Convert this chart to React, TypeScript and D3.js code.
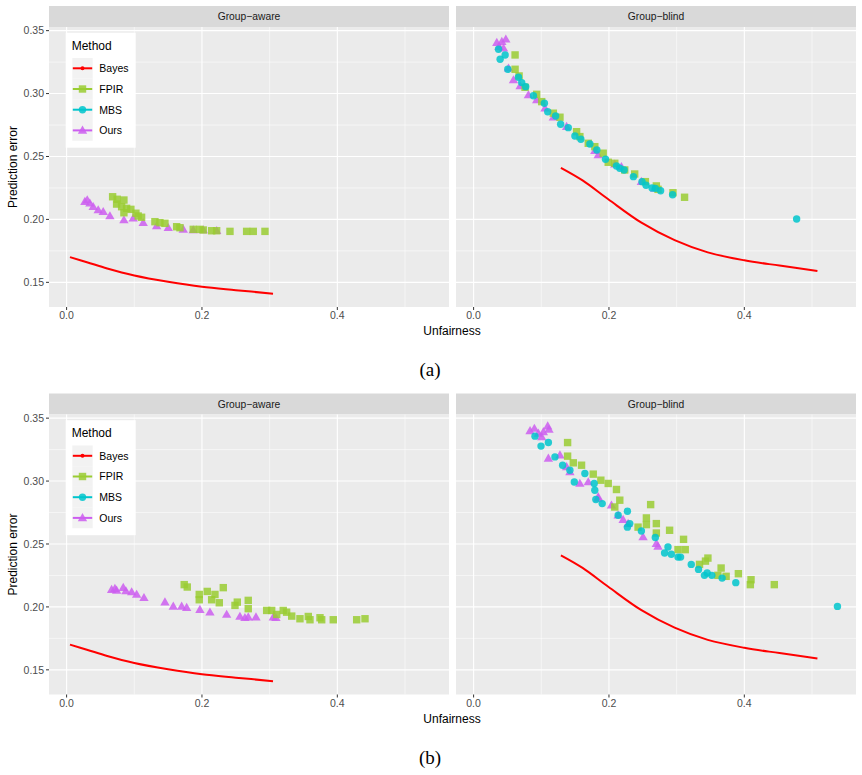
import React from "react";
import * as d3 from "d3";

// Bayes frontier (same in both runs)
const bayesAware: [number, number][] = [
  [0.005, 0.170], [0.03, 0.166], [0.06, 0.161], [0.1, 0.1555], [0.15, 0.1505],
  [0.2, 0.1465], [0.25, 0.1438], [0.305, 0.1410],
];
const bayesBlind: [number, number][] = [
  [0.129, 0.241], [0.161, 0.231], [0.199, 0.216], [0.248, 0.1974], [0.297, 0.1835],
  [0.346, 0.1738], [0.4, 0.1675], [0.452, 0.1633], [0.508, 0.159],
];

// run (a)
const aAwareFPIR: [number, number][] = [
  [0.068, 0.218], [0.0748, 0.216], [0.0847, 0.2154], [0.0739, 0.2122], [0.0813, 0.2101],
  [0.0887, 0.2088], [0.095, 0.208], [0.0847, 0.2053], [0.1024, 0.2049], [0.1108, 0.2017],
  [0.1058, 0.2027], [0.1305, 0.1982], [0.1379, 0.1974], [0.1453, 0.1969], [0.1626, 0.1942],
  [0.1675, 0.1934], [0.1871, 0.1921], [0.197, 0.1921], [0.2019, 0.1916], [0.2143, 0.191],
  [0.2217, 0.191], [0.2414, 0.1905], [0.266, 0.1905], [0.2758, 0.1905], [0.2931, 0.1905],
];
const aAwareOurs: [number, number][] = [
  [0.027, 0.2141], [0.0305, 0.2154], [0.0344, 0.2128], [0.0393, 0.2101], [0.0467, 0.2075],
  [0.0541, 0.2061], [0.064, 0.2027], [0.0847, 0.1995], [0.0984, 0.2009], [0.1132, 0.1974],
  [0.133, 0.1948], [0.1502, 0.1934], [0.1724, 0.1921], [0.1871, 0.1916], [0.2019, 0.1916],
  [0.2217, 0.191],
];
const aBlindFPIR: [number, number][] = [
  [0.0613, 0.3307], [0.0613, 0.3193], [0.0672, 0.314], [0.076, 0.305], [0.0932, 0.2994],
  [0.1006, 0.2936], [0.1178, 0.2844], [0.1276, 0.2812], [0.1522, 0.2697], [0.157, 0.2658],
  [0.1694, 0.2605], [0.1791, 0.2578], [0.1915, 0.2526], [0.1989, 0.2454], [0.2086, 0.2446],
  [0.2233, 0.2393], [0.238, 0.2361], [0.2538, 0.23], [0.27, 0.2266], [0.2725, 0.2239],
  [0.2946, 0.2212], [0.3117, 0.2176],
];
const aBlindMBS: [number, number][] = [
  [0.0368, 0.3352], [0.0392, 0.3273], [0.0466, 0.3307], [0.0505, 0.3193], [0.0663, 0.313],
  [0.0711, 0.3087], [0.077, 0.3055], [0.0884, 0.2983], [0.1046, 0.2923], [0.1095, 0.2856],
  [0.1212, 0.2822], [0.1286, 0.2756], [0.1399, 0.2729], [0.1497, 0.2663], [0.1585, 0.2637],
  [0.1718, 0.2599], [0.1821, 0.2552], [0.1949, 0.2478], [0.2111, 0.2425], [0.216, 0.2406],
  [0.2224, 0.2393], [0.2361, 0.234], [0.2489, 0.23], [0.2548, 0.2271], [0.2637, 0.225],
  [0.2685, 0.2247], [0.2763, 0.2228], [0.294, 0.2196], [0.4773, 0.2003],
];
const aBlindOurs: [number, number][] = [
  [0.0343, 0.3405], [0.0417, 0.3413], [0.0476, 0.3432], [0.0377, 0.3373], [0.0442, 0.336],
  [0.0516, 0.3201], [0.0589, 0.3108], [0.0687, 0.306], [0.081, 0.2989], [0.0932, 0.2949],
  [0.1055, 0.2883], [0.1178, 0.2812], [0.1374, 0.2737], [0.1791, 0.2546], [0.1841, 0.2512],
  [0.2086, 0.2438], [0.2184, 0.2419], [0.2479, 0.23], [0.2675, 0.2247],
];

// run (b)
const bAwareFPIR: [number, number][] = [
  [0.1738, 0.2177], [0.1783, 0.2158], [0.196, 0.2099], [0.196, 0.2057], [0.2078, 0.2123],
  [0.2192, 0.2099], [0.2143, 0.2057], [0.2256, 0.2033], [0.2315, 0.2153], [0.2488, 0.2012],
  [0.2522, 0.2038], [0.2684, 0.2052], [0.2684, 0.1986], [0.2956, 0.1972], [0.303, 0.1972],
  [0.3104, 0.194], [0.3201, 0.1972], [0.3251, 0.1958], [0.3326, 0.1927], [0.3448, 0.1906],
  [0.3571, 0.1924], [0.3596, 0.1898], [0.3744, 0.1914], [0.3769, 0.1898], [0.394, 0.1898],
  [0.4286, 0.1898], [0.4409, 0.1906],
];
const bAwareOurs: [number, number][] = [
  [0.0665, 0.2137], [0.0714, 0.2145], [0.0739, 0.2131], [0.0837, 0.2153], [0.0876, 0.2126],
  [0.0961, 0.2118], [0.1035, 0.2099], [0.1143, 0.2073], [0.1453, 0.2038], [0.1576, 0.2004],
  [0.17, 0.2004], [0.1774, 0.1994], [0.197, 0.1978], [0.2118, 0.1958], [0.2365, 0.194],
  [0.2561, 0.1924], [0.2635, 0.1914], [0.2684, 0.1919], [0.2798, 0.1919], [0.3054, 0.1919],
  [0.3093, 0.1914],
];
const bBlindFPIR: [number, number][] = [
  [0.1389, 0.3306], [0.1389, 0.3198], [0.1473, 0.3145], [0.1595, 0.3126], [0.1768, 0.3055],
  [0.188, 0.3007], [0.1989, 0.2981], [0.2111, 0.2933], [0.216, 0.2848], [0.2086, 0.2794],
  [0.2616, 0.2813], [0.2553, 0.2707], [0.2553, 0.2654], [0.27, 0.2662], [0.27, 0.2587],
  [0.2896, 0.2609], [0.243, 0.2634], [0.3102, 0.2537], [0.302, 0.2455], [0.3127, 0.2455],
  [0.3338, 0.2338], [0.3426, 0.2364], [0.3462, 0.2388], [0.3657, 0.2309], [0.3731, 0.2243],
  [0.3609, 0.2251], [0.3912, 0.2264], [0.4099, 0.2216], [0.4089, 0.2177], [0.4443, 0.2177],
];
const bBlindMBS: [number, number][] = [
  [0.0907, 0.3357], [0.0996, 0.3278], [0.1105, 0.3306], [0.1202, 0.3192], [0.1315, 0.3126],
  [0.1423, 0.3086], [0.1488, 0.2993], [0.1644, 0.306], [0.1782, 0.2981], [0.1791, 0.2927],
  [0.1806, 0.2853], [0.19, 0.2821], [0.2136, 0.2728], [0.2273, 0.276], [0.2307, 0.2662],
  [0.2273, 0.2634], [0.2479, 0.2603], [0.2685, 0.2551], [0.2822, 0.2428], [0.2872, 0.2476],
  [0.2921, 0.2418], [0.302, 0.2396], [0.3058, 0.2396], [0.3216, 0.2338], [0.3323, 0.2298],
  [0.3411, 0.2251], [0.3451, 0.2269], [0.352, 0.2251], [0.3672, 0.2229], [0.3874, 0.2193],
  [0.5376, 0.2004],
];
const bBlindOurs: [number, number][] = [
  [0.0834, 0.3399], [0.0898, 0.3418], [0.0957, 0.3379], [0.1031, 0.3391], [0.1095, 0.3437],
  [0.1114, 0.341], [0.1006, 0.3351], [0.1105, 0.318], [0.1276, 0.3206], [0.1423, 0.3073],
  [0.1374, 0.3113], [0.157, 0.2981], [0.1694, 0.2993], [0.1841, 0.2874], [0.1841, 0.2861],
  [0.2037, 0.2808], [0.2136, 0.2728], [0.2209, 0.2694], [0.2283, 0.2662], [0.2504, 0.2555],
  [0.27, 0.2503], [0.2725, 0.2481],
];

const methods = ["Bayes", "FPIR", "MBS", "Ours"];
const colors: Record<string, string> = {
  Bayes: "#ff0000",
  FPIR: "#9acd32",
  MBS: "#00c5cd",
  Ours: "#cc5ef0",
};
const xTicks = [0, 0.2, 0.4];
const xMinor = [0.1, 0.3, 0.5];
const yTicks = [0.15, 0.2, 0.25, 0.3, 0.35];
const yMinor = [0.175, 0.225, 0.275, 0.325];

const SANS = "'Liberation Sans', Arial, Helvetica, sans-serif";
const panelsX: [number, number][] = [[49, 449], [456, 856]];
const stripTop = 6;
const panelTop = 27;
const panelBottom = 307;

const tri = d3.symbol().type(d3.symbolTriangle).size(38)();

function Marker({ m, x, y }: { m: string; x: number; y: number }) {
  const c = colors[m];
  if (m === "FPIR")
    return <rect x={x - 3.7} y={y - 3.7} width={7.4} height={7.4} fill={c} fillOpacity={0.85} />;
  if (m === "MBS") return <circle cx={x} cy={y} r={3.7} fill={c} fillOpacity={0.85} />;
  if (m === "Ours")
    return <path d={tri!} transform={`translate(${x},${y + 0.6})`} fill={c} fillOpacity={0.85} />;
  return <circle cx={x} cy={y} r={2} fill={c} />;
}

type Panel = { title: string; bayes: [number, number][]; series: [string, [number, number][]][] };

function Facet({ oy, tag, panels }: { oy: number; tag: string; panels: Panel[] }) {
  const y = d3.scaleLinear().domain([0.1304, 0.3529]).range([oy + panelBottom, oy + panelTop]);
  return (
    <g>
      {panels.map((p, i) => {
        const [x0, x1] = panelsX[i];
        const x = d3.scaleLinear().domain([-0.026, 0.565]).range([x0, x1]);
        const line = d3
          .line<[number, number]>()
          .x((d) => x(d[0]))
          .y((d) => y(d[1]))
          .curve(d3.curveCatmullRom);
        return (
          <g key={p.title}>
            <rect x={x0} y={oy + stripTop} width={x1 - x0} height={panelTop - stripTop} fill="#d9d9d9" />
            <text
              x={(x0 + x1) / 2}
              y={oy + (stripTop + panelTop) / 2 + 3.6}
              textAnchor="middle"
              fontSize={10.3}
              fill="#1a1a1a"
            >
              {p.title}
            </text>
            <rect x={x0} y={oy + panelTop} width={x1 - x0} height={panelBottom - panelTop} fill="#ebebeb" />
            {xMinor.map((t) => (
              <line key={"xm" + t} x1={x(t)} x2={x(t)} y1={oy + panelTop} y2={oy + panelBottom} stroke="#fff" strokeWidth={0.55} />
            ))}
            {yMinor.map((t) => (
              <line key={"ym" + t} x1={x0} x2={x1} y1={y(t)} y2={y(t)} stroke="#fff" strokeWidth={0.55} />
            ))}
            {xTicks.map((t) => (
              <line key={"xg" + t} x1={x(t)} x2={x(t)} y1={oy + panelTop} y2={oy + panelBottom} stroke="#fff" strokeWidth={1.1} />
            ))}
            {yTicks.map((t) => (
              <line key={"yg" + t} x1={x0} x2={x1} y1={y(t)} y2={y(t)} stroke="#fff" strokeWidth={1.1} />
            ))}
            {xTicks.map((t) => (
              <g key={"xt" + t}>
                <line x1={x(t)} x2={x(t)} y1={oy + panelBottom} y2={oy + panelBottom + 3} stroke="#333" strokeWidth={1} />
                <text x={x(t)} y={oy + panelBottom + 12} textAnchor="middle" fontSize={10.5} fill="#4d4d4d">
                  {d3.format(".1f")(t)}
                </text>
              </g>
            ))}
            {i === 0 &&
              yTicks.map((t) => (
                <g key={"yt" + t}>
                  <line x1={x0 - 3} x2={x0} y1={y(t)} y2={y(t)} stroke="#333" strokeWidth={1} />
                  <text x={x0 - 5} y={y(t) + 3.7} textAnchor="end" fontSize={10.5} fill="#4d4d4d">
                    {d3.format(".2f")(t)}
                  </text>
                </g>
              ))}
            <path d={line(p.bayes) ?? ""} fill="none" stroke={colors.Bayes} strokeWidth={2} />
            {p.series.map(([m, pts]) =>
              pts.map((d, k) => <Marker key={m + k} m={m} x={x(d[0])} y={y(d[1])} />)
            )}
          </g>
        );
      })}
      <text x={452} y={oy + 335} textAnchor="middle" fontSize={12} fill="#000">
        Unfairness
      </text>
      <text
        transform={`translate(17,${oy + 167}) rotate(-90)`}
        textAnchor="middle"
        fontSize={12}
        fill="#000"
      >
        Prediction error
      </text>
      <Legend ox={65.7} oy={oy + 32.7} />
      <text x={430} y={oy + 376} textAnchor="middle" fontSize={19} fontFamily="'Liberation Serif', 'DejaVu Serif', serif" fill="#000">
        {tag}
      </text>
    </g>
  );
}

function Legend({ ox, oy }: { ox: number; oy: number }) {
  return (
    <g>
      <rect x={ox} y={oy} width={70} height={115} fill="#fff" />
      <text x={ox + 6} y={oy + 17} fontSize={12} fill="#000">
        Method
      </text>
      {methods.map((m, i) => {
        const cy = oy + 35.6 + i * 20.7;
        const kx = ox + 6.6;
        return (
          <g key={m}>
            <rect x={kx} y={cy - 10.35} width={20.4} height={20.7} fill="#f2f2f2" />
            <line x1={kx + 0.5} x2={kx + 19.9} y1={cy} y2={cy} stroke={colors[m]} strokeWidth={2} />
            <Marker m={m} x={kx + 10.2} y={cy} />
            <text x={ox + 33.6} y={cy + 3.8} fontSize={10.5} fill="#000">
              {m}
            </text>
          </g>
        );
      })}
    </g>
  );
}

export default function App() {
  const runA: Panel[] = [
    { title: "Group\u2212aware", bayes: bayesAware, series: [["Ours", aAwareOurs], ["FPIR", aAwareFPIR]] },
    {
      title: "Group\u2212blind",
      bayes: bayesBlind,
      series: [["Ours", aBlindOurs], ["FPIR", aBlindFPIR], ["MBS", aBlindMBS]],
    },
  ];
  const runB: Panel[] = [
    { title: "Group\u2212aware", bayes: bayesAware, series: [["Ours", bAwareOurs], ["FPIR", bAwareFPIR]] },
    {
      title: "Group\u2212blind",
      bayes: bayesBlind,
      series: [["Ours", bBlindOurs], ["FPIR", bBlindFPIR], ["MBS", bBlindMBS]],
    },
  ];
  return (
    <svg
      width={862}
      height={775}
      style={{ position: "absolute", left: 0, top: 0, background: "#fff" }}
      fontFamily={SANS}
    >
      <Facet oy={0} tag="(a)" panels={runA} />
      <Facet oy={387.5} tag="(b)" panels={runB} />
    </svg>
  );
}
